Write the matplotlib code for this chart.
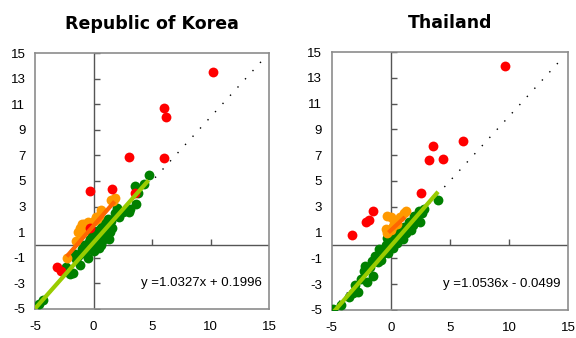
import matplotlib.pyplot as plt
from matplotlib.markers import TICKRIGHT, TICKUP
import numpy as np

plt.rcParams['font.family'] = ['Liberation Sans', 'DejaVu Sans']
plt.rcParams['axes.unicode_minus'] = False

# Republic of Korea
kor_green_x = [-4.7, -4.3, -2.4, -2.0, -1.8, -1.5, -1.3, -1.2, -1.0, -0.8, -0.7, -0.5,
               -0.4, -0.3, -0.2, 0.0, 0.1, 0.2, 0.3, 0.4, 0.5, 0.6, 0.7, 0.8, 0.9, 1.0,
               1.1, 1.2, 1.3, 1.4, 1.6, 1.8, 2.0, 2.2, 2.5, 3.0, 3.1, 3.5, 3.6, 3.8, 4.3,
               4.7, 0.0, 0.5, -0.9, -0.1, 0.3, 1.5, -1.6, 0.6]
kor_green_y = [-4.6, -4.3, -1.7, -2.3, -2.2, -1.1, -0.9, -1.6, -0.3, 0.0, -0.5, -1.0,
               0.2, 0.5, -0.3, 0.3, 0.8, 0.0, 1.1, 0.5, 0.7, 1.3, 0.3, 1.6, 0.9, 1.8,
               1.2, 2.0, 0.5, 1.0, 1.3, 2.5, 2.9, 2.2, 2.6, 2.6, 2.8, 4.6, 3.2, 4.1, 4.8,
               5.5, -0.5, -0.2, -0.6, 0.9, 0.2, 1.9, -0.7, 0.0]
kor_orange_x = [-2.3, -1.5, -1.3, -1.2, -1.0, -0.8, -0.6, -1.1, -0.9, 0.0, 0.2, 0.5,
                0.6, 0.3, 1.5, 1.8, 1.7, -0.5]
kor_orange_y = [-1.0, 0.3, 1.0, 1.3, 1.6, 1.6, 1.5, 0.9, 1.2, 1.9, 2.2, 2.3,
                2.7, 2.0, 3.5, 3.7, 3.4, 1.8]
kor_red_x = [10.2, 6.0, 6.2, 3.0, 6.0, -0.3, 1.6, 3.5, -0.3, -3.1, -2.8]
kor_red_y = [13.5, 10.7, 10.0, 6.9, 6.8, 4.2, 4.4, 4.1, 1.3, -1.7, -2.0]
kor_fit = (1.0327, 0.1996)
kor_fit_range = (-5.0, 4.7)
kor_orange_fit = [(-2.3, -0.9), (1.8, 3.4)]

# Thailand
tha_green_x = [-4.9, -4.2, -3.5, -3.2, -3.0, -2.8, -2.5, -2.3, -2.0, -1.8, -1.6, -1.5,
               -1.3, -1.1, -1.0, -0.8, -0.6, -0.4, -0.2, 0.0, 0.1, 0.3, 0.5, 0.7, 0.9,
               1.1, 1.3, 1.5, 1.7, 2.0, 2.2, 2.4, 2.6, 2.8, 2.5, 4.0, 0.5, -0.3, 0.2,
               -0.1, 1.0, 1.9, -2.2]
tha_green_y = [-4.9, -4.6, -4.0, -3.7, -3.1, -3.6, -2.6, -2.0, -2.8, -1.7, -1.2, -2.4,
               -0.8, -1.3, -0.3, -1.1, -0.6, 0.0, -0.6, 0.3, 0.8, 0.5, 0.8, 1.2, 0.6,
               1.4, 1.0, 1.8, 1.2, 2.3, 2.0, 2.7, 2.5, 2.8, 1.8, 3.5, 0.2, 0.6, -0.2,
               0.9, 0.5, 1.6, -1.6]
tha_orange_x = [-0.3, 0.0, 0.3, 0.5, 0.8, 1.1, 1.3, -0.4, -0.3, 0.2, 0.0]
tha_orange_y = [2.3, 2.2, 1.9, 1.7, 2.2, 2.5, 2.7, 1.3, 1.0, 1.5, 1.2]
tha_red_x = [9.7, 6.1, 3.6, 3.25, 4.4, 2.55, -1.5, -1.85, -2.1, -3.25]
tha_red_y = [13.9, 8.1, 7.7, 6.6, 6.7, 4.1, 2.7, 2.0, 1.8, 0.85]
tha_fit = (1.0536, -0.0499)
tha_fit_range = (-5.0, 4.0)
tha_orange_fit = [(-0.2, 1.0), (1.2, 2.2)]

x_ticks = [-5, 0, 5, 10, 15]
y_ticks = [-5, -3, -1, 1, 3, 5, 7, 9, 11, 13, 15]


def fit_label(a, b):
    sign = '+' if b >= 0 else '-'
    return f'y =%.4fx {sign} %.4f' % (a, abs(b))


def draw_panel(ax, title, gx, gy, ox, oy, rx, ry, fit, fit_range, ofit):
    ax.set_xlim(-5, 15)
    ax.set_ylim(-5, 15)
    for s in ax.spines.values():
        s.set_color('#8c8c8c')
        s.set_linewidth(1.2)
    ax.set_xticks(x_ticks)
    ax.set_yticks(y_ticks)
    ax.tick_params(length=0, labelsize=9.5)
    ax.tick_params(axis='x', pad=9)
    ax.tick_params(axis='y', pad=7)

    # axes crossing at zero with their own small tick marks
    ax.axhline(0, color='#555555', lw=1.0, zorder=1)
    ax.axvline(0, color='#555555', lw=1.0, zorder=1)
    ax.plot([0] * len(y_ticks), y_ticks, ls='none', marker=TICKRIGHT, ms=4,
            color='#555555', mew=1.0, zorder=1)
    ax.plot([5, 10], [0, 0], ls='none', marker=TICKUP, ms=4,
            color='#555555', mew=1.0, zorder=1)

    # 45 degree reference line
    ax.plot([-5, 14.5], [-5, 14.5], color='black', lw=1.0,
            ls=(0, (1, 7)), zorder=2)

    ax.scatter(gx, gy, s=50, color='#008000', lw=0, zorder=3)
    ax.scatter(ox, oy, s=50, color='#ff9900', lw=0, zorder=4)
    ax.scatter(rx, ry, s=50, color='#ff0000', lw=0, zorder=5)

    a, b = fit
    fx = np.array(fit_range)
    ax.plot(fx, a * fx + b, color='#99cc00', lw=3, solid_capstyle='butt', zorder=6)
    (x0, y0), (x1, y1) = ofit
    ax.plot([x0, x1], [y0, y1], color='#ff6600', lw=3, solid_capstyle='butt', zorder=6)

    ax.text(14.4, -3.0, fit_label(a, b), ha='right', va='center', fontsize=9.5)
    ax.set_title(title, fontsize=12.5, fontweight='bold', family='DejaVu Sans', pad=17)


fig = plt.figure(figsize=(5.76, 3.38), dpi=100)
ax1 = fig.add_axes([0.061, 0.086, 0.406, 0.757])
ax2 = fig.add_axes([0.576, 0.083, 0.410, 0.763])

draw_panel(ax1, 'Republic of Korea', kor_green_x, kor_green_y, kor_orange_x, kor_orange_y,
           kor_red_x, kor_red_y, kor_fit, kor_fit_range, kor_orange_fit)
draw_panel(ax2, 'Thailand', tha_green_x, tha_green_y, tha_orange_x, tha_orange_y,
           tha_red_x, tha_red_y, tha_fit, tha_fit_range, tha_orange_fit)

fig.savefig('out.png', dpi=100)
